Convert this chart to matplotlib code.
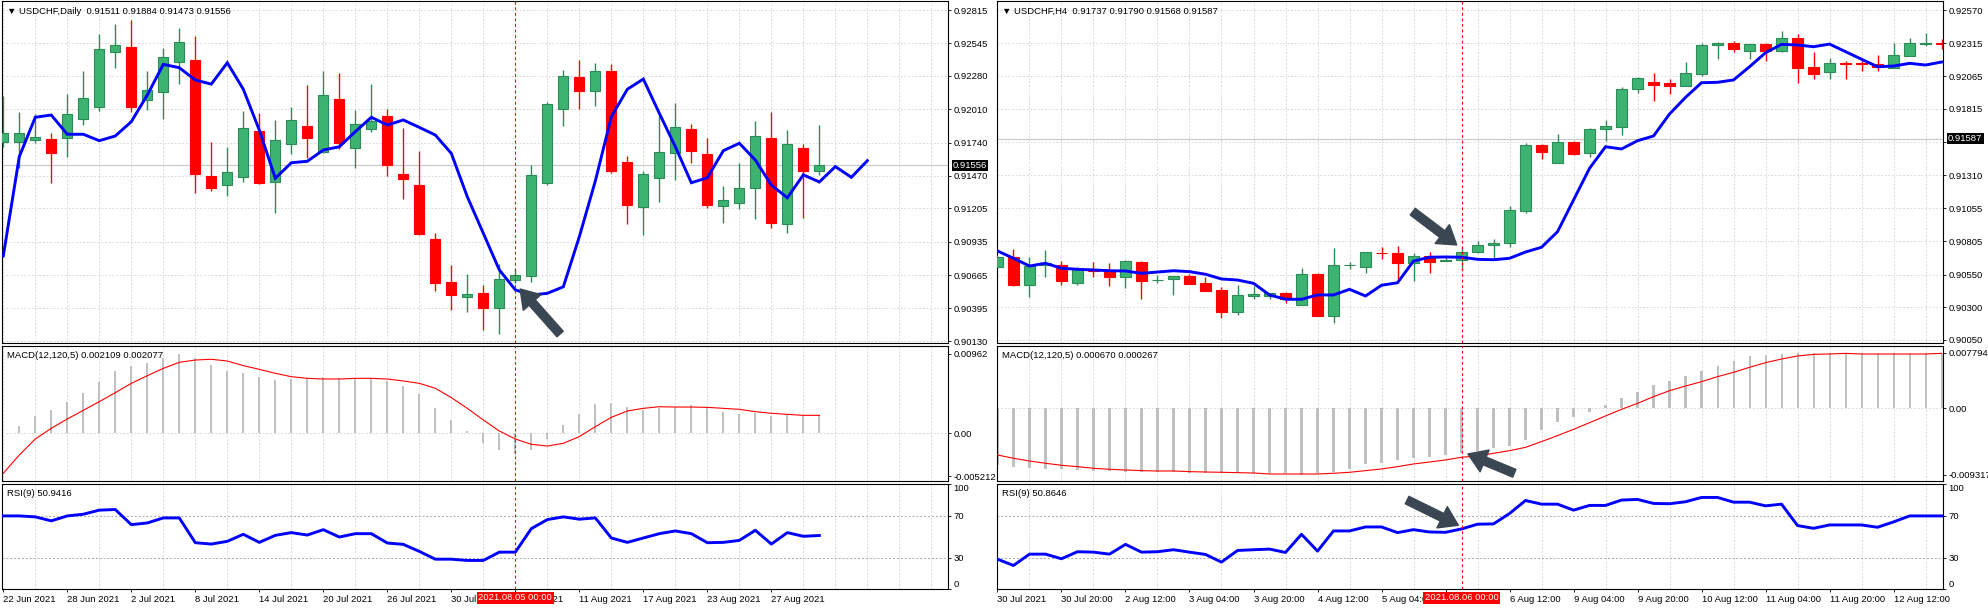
import numpy as np
import matplotlib
matplotlib.use("Agg")
import matplotlib.pyplot as plt

plt.rcParams['font.family'] = ['Liberation Sans', 'DejaVu Sans']
plt.rcParams['font.size'] = 6.8

# ---------------- USDCHF Daily (left chart) ----------------
d1_open = [0.91747, 0.91742, 0.91758, 0.91768, 0.91774, 0.91928, 0.92030, 0.92472, 0.92515, 0.92083,
           0.92148, 0.92391, 0.92409, 0.91468, 0.91393, 0.91458, 0.91833, 0.91422, 0.91725, 0.91874,
           0.91665, 0.92093, 0.91693, 0.91847, 0.91955, 0.91482, 0.91395, 0.90957, 0.90609, 0.90489,
           0.90519, 0.90395, 0.90622, 0.90660, 0.91409, 0.92014, 0.92271, 0.92160, 0.92320, 0.91581,
           0.91218, 0.91454, 0.91657, 0.91850, 0.91647, 0.91229, 0.91252, 0.91369, 0.91777, 0.91081,
           0.91696, 0.91511]
d1_high = [0.92117, 0.91988, 0.91969, 0.91817, 0.92136, 0.92323, 0.92618, 0.92701, 0.92734, 0.92320,
           0.92504, 0.92671, 0.92606, 0.91744, 0.91706, 0.91996, 0.91977, 0.91923, 0.92028, 0.92207,
           0.92323, 0.92306, 0.92004, 0.92217, 0.92012, 0.91860, 0.91674, 0.91007, 0.90746, 0.90673,
           0.90582, 0.90752, 0.90712, 0.91557, 0.92066, 0.92328, 0.92409, 0.92387, 0.92377, 0.91631,
           0.91509, 0.91955, 0.92063, 0.91890, 0.91777, 0.91387, 0.91573, 0.91914, 0.91988, 0.91843,
           0.91728, 0.91884]
d1_low = [0.91706, 0.91531, 0.91738, 0.91414, 0.91625, 0.91882, 0.91996, 0.92347, 0.91990, 0.92004,
          0.91928, 0.92217, 0.91328, 0.91349, 0.91308, 0.91422, 0.91403, 0.91171, 0.91647, 0.91617,
          0.91652, 0.91685, 0.91536, 0.91828, 0.91471, 0.91282, 0.90990, 0.90535, 0.90381, 0.90365,
          0.90219, 0.90185, 0.90600, 0.90611, 0.91395, 0.91874, 0.92014, 0.92036, 0.91495, 0.91081,
          0.90990, 0.91260, 0.91436, 0.91576, 0.91209, 0.91086, 0.91203, 0.91121, 0.91049, 0.91004,
          0.91130, 0.91473]
d1_close = [0.91815, 0.91815, 0.91785, 0.91657, 0.91969, 0.92099, 0.92496, 0.92529, 0.92030, 0.92166,
            0.92431, 0.92553, 0.91482, 0.91373, 0.91498, 0.91858, 0.91414, 0.91758, 0.91923, 0.91779,
            0.92123, 0.91738, 0.91890, 0.91917, 0.91560, 0.91446, 0.90998, 0.90603, 0.90503, 0.90511,
            0.90400, 0.90633, 0.90663, 0.91480, 0.92050, 0.92277, 0.92160, 0.92320, 0.91509, 0.91230,
            0.91481, 0.91660, 0.91866, 0.91674, 0.91233, 0.91274, 0.91369, 0.91792, 0.91089, 0.91728,
            0.91512, 0.91556]
# moving average, drawn shifted 3 bars to the right
d1_ma = [0.90820, 0.91625, 0.91945, 0.91963, 0.91807, 0.91807, 0.91755, 0.91793, 0.91909, 0.92125,
         0.92374, 0.92347, 0.92247, 0.92214, 0.92387, 0.92172, 0.91841, 0.91450, 0.91576, 0.91588,
         0.91679, 0.91706, 0.91828, 0.91945, 0.91882, 0.91923, 0.91863, 0.91801, 0.91652, 0.91300,
         0.91004, 0.90707, 0.90545, 0.90503, 0.90517, 0.90570, 0.90976, 0.91428, 0.91949, 0.92172,
         0.92255, 0.91977, 0.91706, 0.91414, 0.91454, 0.91674, 0.91734, 0.91598, 0.91395, 0.91292,
         0.91478, 0.91420, 0.91545, 0.91458, 0.91593]
d1_macd = [0.00010, 0.00093, 0.00210, 0.00283, 0.00380, 0.00489, 0.00627, 0.00756, 0.00817, 0.00853,
           0.00918, 0.00962, 0.00910, 0.00829, 0.00756, 0.00732, 0.00683, 0.00647, 0.00659, 0.00667,
           0.00679, 0.00667, 0.00667, 0.00667, 0.00639, 0.00574, 0.00481, 0.00311, 0.00162, 0.00028,
           -0.00113, -0.00202, -0.00251, -0.00202, -0.00069, 0.00101, 0.00234, 0.00356, 0.00364, 0.00323,
           0.00283, 0.00303, 0.00323, 0.00344, 0.00315, 0.00263, 0.00234, 0.00251, 0.00210, 0.00230,
           0.00214, 0.00221]
d1_signal = [-0.00485, -0.00263, -0.00069, 0.00061, 0.00174, 0.00279, 0.00384, 0.00493, 0.00606, 0.00699,
             0.00788, 0.00861, 0.00889, 0.00898, 0.00877, 0.00821, 0.00776, 0.00728, 0.00687, 0.00667,
             0.00659, 0.00659, 0.00667, 0.00667, 0.00659, 0.00635, 0.00606, 0.00546, 0.00433, 0.00303,
             0.00162, 0.00028, -0.00069, -0.00133, -0.00154, -0.00121, -0.00040, 0.00081, 0.00194, 0.00271,
             0.00303, 0.00323, 0.00319, 0.00319, 0.00315, 0.00303, 0.00291, 0.00263, 0.00243, 0.00230,
             0.00218, 0.00218]
d1_rsi = [69.6, 69.6, 68.7, 64.9, 69.6, 71.2, 75.1, 75.7, 61.3, 62.9,
          67.7, 67.7, 44.1, 42.8, 45.4, 52.1, 44.4, 51.1, 53.7, 51.4,
          56.5, 49.5, 52.7, 52.7, 43.8, 42.5, 35.8, 28.4, 28.4, 27.2,
          27.2, 35.1, 35.1, 57.5, 66.1, 68.7, 66.5, 67.7, 48.6, 44.4,
          48.6, 52.7, 55.3, 52.7, 44.1, 44.4, 46.3, 55.9, 42.8, 53.7,
          50.2, 50.94]
d1_dates = ['22 Jun 2021', '28 Jun 2021', '2 Jul 2021', '8 Jul 2021', '14 Jul 2021', '20 Jul 2021',
            '26 Jul 2021', '30 Jul 2021', '5 Aug 2021', '11 Aug 2021', '17 Aug 2021', '23 Aug 2021',
            '27 Aug 2021']
d1_price_ticks = [0.92815, 0.92545, 0.92280, 0.92010, 0.91740, 0.91470, 0.91205, 0.90935, 0.90665,
                  0.90395, 0.90130]
d1_price_labels = ['0.92815', '0.92545', '0.92280', '0.92010', '0.91740', '0.91470', '0.91205',
                   '0.90935', '0.90665', '0.90395', '0.90130']
d1_macd_ticks = [0.00962, 0.0, -0.005212]
d1_macd_labels = ['0.00962', '0.00', '-0.005212']
d1_last = 0.91556
d1_cursor = 32
d1_cursor_label = '2021.08.05 00:00'
d1_title = '\u25bc USDCHF,Daily  0.91511 0.91884 0.91473 0.91556'
d1_macd_title = 'MACD(12,120,5) 0.002109 0.002077'
d1_rsi_title = 'RSI(9) 50.9416'

# ---------------- USDCHF H4 (right chart) ----------------
h4_open = [0.90610, 0.90682, 0.90472, 0.90625, 0.90621, 0.90483, 0.90585, 0.90585, 0.90534, 0.90646,
           0.90508, 0.90514, 0.90537, 0.90485, 0.90432, 0.90266, 0.90384, 0.90388, 0.90407, 0.90320,
           0.90555, 0.90236, 0.90621, 0.90610, 0.90717, 0.90712, 0.90636, 0.90689, 0.90653, 0.90659,
           0.90720, 0.90776, 0.90789, 0.91037, 0.91539, 0.91404, 0.91560, 0.91476, 0.91659, 0.91679,
           0.91965, 0.92020, 0.92013, 0.91992, 0.92084, 0.92300, 0.92316, 0.92259, 0.92310, 0.92259,
           0.92354, 0.92133, 0.92094, 0.92163, 0.92165, 0.92155, 0.92129, 0.92221, 0.92314, 0.92316]
h4_high = [0.90699, 0.90745, 0.90682, 0.90737, 0.90656, 0.90610, 0.90648, 0.90638, 0.90661, 0.90651,
           0.90547, 0.90541, 0.90554, 0.90534, 0.90453, 0.90468, 0.90463, 0.90411, 0.90417, 0.90600,
           0.90564, 0.90750, 0.90648, 0.90722, 0.90763, 0.90768, 0.90712, 0.90720, 0.90691, 0.90763,
           0.90804, 0.90819, 0.91073, 0.91557, 0.91547, 0.91624, 0.91566, 0.91667, 0.91730, 0.91984,
           0.92056, 0.92091, 0.92041, 0.92173, 0.92316, 0.92326, 0.92331, 0.92314, 0.92316, 0.92410,
           0.92387, 0.92249, 0.92201, 0.92183, 0.92188, 0.92226, 0.92316, 0.92354, 0.92392, 0.92346]
h4_low = [0.90605, 0.90463, 0.90381, 0.90534, 0.90470, 0.90468, 0.90534, 0.90463, 0.90449, 0.90366,
          0.90483, 0.90394, 0.90475, 0.90427, 0.90216, 0.90241, 0.90363, 0.90361, 0.90330, 0.90317,
          0.90233, 0.90178, 0.90590, 0.90564, 0.90671, 0.90514, 0.90503, 0.90564, 0.90651, 0.90585,
          0.90717, 0.90661, 0.90763, 0.91022, 0.91435, 0.91399, 0.91465, 0.91445, 0.91572, 0.91618,
          0.91939, 0.91877, 0.91929, 0.91990, 0.92066, 0.92194, 0.92252, 0.92194, 0.92183, 0.92252,
          0.92010, 0.92045, 0.92041, 0.92041, 0.92106, 0.92106, 0.92125, 0.92221, 0.92299, 0.92270]
h4_close = [0.90682, 0.90470, 0.90615, 0.90636, 0.90503, 0.90590, 0.90579, 0.90534, 0.90653, 0.90503,
            0.90511, 0.90537, 0.90480, 0.90427, 0.90266, 0.90391, 0.90399, 0.90407, 0.90363, 0.90552,
            0.90236, 0.90621, 0.90623, 0.90720, 0.90712, 0.90636, 0.90689, 0.90648, 0.90661, 0.90720,
            0.90773, 0.90793, 0.91043, 0.91539, 0.91488, 0.91560, 0.91470, 0.91659, 0.91684, 0.91965,
            0.92049, 0.92000, 0.91992, 0.92089, 0.92303, 0.92320, 0.92275, 0.92310, 0.92259, 0.92354,
            0.92129, 0.92084, 0.92163, 0.92155, 0.92160, 0.92137, 0.92226, 0.92316, 0.92317, 0.92314]
h4_ma = [0.90730, 0.90674, 0.90615, 0.90636, 0.90598, 0.90590, 0.90585, 0.90579, 0.90577, 0.90559,
         0.90569, 0.90579, 0.90572, 0.90552, 0.90516, 0.90508, 0.90483, 0.90394, 0.90361, 0.90361,
         0.90394, 0.90394, 0.90437, 0.90386, 0.90468, 0.90487, 0.90653, 0.90682, 0.90684, 0.90682,
         0.90666, 0.90663, 0.90674, 0.90722, 0.90758, 0.90877, 0.91119, 0.91361, 0.91526, 0.91509,
         0.91572, 0.91608, 0.91776, 0.91903, 0.92015, 0.92018, 0.92036, 0.92137, 0.92244, 0.92308,
         0.92303, 0.92290, 0.92310, 0.92252, 0.92194, 0.92137, 0.92142, 0.92163, 0.92150, 0.92173]
h4_macd = [-0.00793, -0.00816, -0.00830, -0.00844, -0.00853, -0.00863, -0.00872, -0.00877, -0.00886, -0.00891,
           -0.00895, -0.00895, -0.00900, -0.00900, -0.00909, -0.00909, -0.00909, -0.00909, -0.00909, -0.00932,
           -0.00900, -0.00891, -0.00853, -0.00783, -0.00760, -0.00723, -0.00699, -0.00676, -0.00653, -0.00630,
           -0.00592, -0.00560, -0.00527, -0.00443, -0.00303, -0.00187, -0.00126, -0.00047, 0.00047, 0.00140,
           0.00233, 0.00326, 0.00387, 0.00452, 0.00527, 0.00597, 0.00667, 0.00732, 0.00746, 0.00760,
           0.00769, 0.00769, 0.00779, 0.00779, 0.00769, 0.00769, 0.00769, 0.00769, 0.00769, 0.00769]
h4_signal = [-0.00653, -0.00699, -0.00737, -0.00769, -0.00797, -0.00816, -0.00839, -0.00853, -0.00863, -0.00872,
             -0.00877, -0.00877, -0.00886, -0.00891, -0.00895, -0.00900, -0.00905, -0.00919, -0.00919, -0.00919,
             -0.00919, -0.00909, -0.00895, -0.00872, -0.00849, -0.00816, -0.00779, -0.00751, -0.00723, -0.00685,
             -0.00667, -0.00630, -0.00592, -0.00546, -0.00466, -0.00382, -0.00294, -0.00201, -0.00107, -0.00014,
             0.00070, 0.00163, 0.00247, 0.00312, 0.00373, 0.00443, 0.00504, 0.00574, 0.00639, 0.00690,
             0.00732, 0.00755, 0.00760, 0.00769, 0.00760, 0.00760, 0.00760, 0.00760, 0.00760, 0.00769]
h4_rsi = [28.4, 22.4, 33.2, 33.2, 28.8, 35.5, 35.1, 33.2, 42.5, 35.1,
          35.5, 37.4, 35.1, 32.9, 25.6, 36.7, 37.4, 38.0, 34.8, 52.1,
          36.1, 55.3, 55.3, 59.1, 59.1, 53.7, 56.5, 54.3, 54.0, 57.2,
          61.7, 62.0, 71.9, 84.3, 80.8, 80.8, 75.1, 79.6, 79.6, 84.7,
          85.3, 81.5, 81.2, 83.1, 87.2, 87.2, 82.7, 82.7, 79.2, 80.8,
          60.4, 57.8, 61.0, 61.0, 61.0, 58.8, 63.9, 69.6, 69.6, 69.6]
h4_dates = ['30 Jul 2021', '30 Jul 20:00', '2 Aug 12:00', '3 Aug 04:00', '3 Aug 20:00', '4 Aug 12:00',
            '5 Aug 04:00', '5 Aug 20:00', '6 Aug 12:00', '9 Aug 04:00', '9 Aug 20:00', '10 Aug 12:00',
            '11 Aug 04:00', '11 Aug 20:00', '12 Aug 12:00']
h4_price_ticks = [0.92570, 0.92315, 0.92065, 0.91815, 0.91560, 0.91310, 0.91055, 0.90805, 0.90550,
                  0.90300, 0.90050]
h4_price_labels = ['0.92570', '0.92315', '0.92065', '0.91815', '', '0.91310', '0.91055', '0.90805',
                   '0.90550', '0.90300', '0.90050']
h4_macd_ticks = [0.007794, 0.0, -0.009317]
h4_macd_labels = ['0.007794', '0.00', '-0.009317']
h4_last = 0.91587
h4_cursor = 29
h4_cursor_label = '2021.08.06 00:00'
h4_title = '\u25bc USDCHF,H4  0.91737 0.91790 0.91568 0.91587'
h4_macd_title = 'MACD(12,120,5) 0.000670 0.000267'
h4_rsi_title = 'RSI(9) 50.8646'

# ---------------- drawing ----------------
W, H = 1988, 610
BULL, BULL_EDGE, BEAR = '#3cb371', '#2e8b57', '#ff0000'
GRID = '#d4d4d4'
ARROW = '#3a4651'
GRID_LS = (0, (2.2, 2.2))

fig = plt.figure(figsize=(W / 100, H / 100), dpi=100)


def rect(x0, y0, x1, y1):
    return [x0 / W, 1 - y1 / H, (x1 - x0) / W, (y1 - y0) / H]


def base(ax, xlim):
    ax.set_xlim(*xlim)
    for s in ax.spines.values():
        s.set_color('black')
        s.set_linewidth(0.8)
    ax.yaxis.tick_right()
    ax.tick_params(axis='y', length=2.5, width=0.6, pad=1.5, labelsize=6.8)
    ax.tick_params(axis='x', which='both', length=0, labelbottom=False)


def corner(ax, text):
    ax.annotate(text, xy=(0, 1), xycoords='axes fraction', xytext=(5, -10),
                textcoords='offset pixels', ha='left', va='center', fontsize=6.8, zorder=7)


def chart(x0, x1, xlim, o, h, l, c, ma, macd, sig, rsi, pticks, plabels, ylim_p, last,
          mticks, mlabels, ylim_m, title, mtitle, rtitle, dates, cursor, cursor_label):
    ax_p = fig.add_axes(rect(x0, 1, x1, 343))
    ax_m = fig.add_axes(rect(x0, 346, x1, 481))
    ax_r = fig.add_axes(rect(x0, 484, x1, 589))
    for ax in (ax_p, ax_m, ax_r):
        base(ax, xlim)
        ax.axvline(cursor, color='red', lw=0.8, ls=(0, (2.5, 2.5)), zorder=6)

    # price panel
    o, h, l, c = map(np.asarray, (o, h, l, c))
    x = np.arange(len(o))
    up = c >= o
    ax_p.vlines(x[up], l[up], h[up], color=BULL_EDGE, lw=1, zorder=3)
    ax_p.vlines(x[~up], l[~up], h[~up], color=BEAR, lw=1, zorder=3)
    bot = np.minimum(o, c)
    hgt = np.abs(c - o)
    ax_p.bar(x[up], hgt[up], bottom=bot[up], width=0.64, color=BULL, edgecolor=BULL_EDGE, lw=0.8, zorder=4)
    ax_p.bar(x[~up], hgt[~up], bottom=bot[~up], width=0.64, color=BEAR, edgecolor=BEAR, lw=0.8, zorder=4)
    ax_p.plot(np.arange(len(ma)), ma, color='#0000ff', lw=2.1, zorder=5, solid_joinstyle='miter')
    ax_p.axhline(last, color='#c8c8c8', lw=0.8, zorder=1)
    ax_p.set_ylim(*ylim_p)
    ax_p.set_yticks(pticks)
    ax_p.set_yticklabels(plabels)
    ax_p.set_xticks(np.arange(0, 60, 2))
    ax_p.grid(True, color=GRID, lw=0.6, ls=GRID_LS, zorder=0)
    ax_p.set_axisbelow(True)
    ax_p.annotate('%.5f' % last, xy=(1, last), xycoords=('axes fraction', 'data'), xytext=(5, 0),
                  textcoords='offset pixels', ha='left', va='center', color='white', fontsize=6.8,
                  bbox=dict(boxstyle='square,pad=0.12', fc='black', ec='none'),
                  annotation_clip=False, zorder=8)
    corner(ax_p, title)

    # MACD panel
    xm = np.arange(len(macd))
    ax_m.bar(xm, macd, width=0.13, color='#c0c0c0', zorder=2)
    ax_m.plot(np.arange(len(sig)), sig, color='#ff0000', lw=0.8, zorder=3)
    ax_m.axhline(0, color=GRID, lw=0.6, ls=GRID_LS, zorder=0)
    ax_m.set_ylim(*ylim_m)
    ax_m.set_yticks(mticks)
    ax_m.set_yticklabels(mlabels)
    ax_m.set_xticks(np.arange(0, 60, 2))
    ax_m.grid(True, axis='x', color=GRID, lw=0.6, ls=GRID_LS, zorder=0)
    ax_m.set_axisbelow(True)
    corner(ax_m, mtitle)

    # RSI panel
    ax_r.plot(np.arange(len(rsi)), rsi, color='#0000ff', lw=2.1, zorder=4)
    for lev in (70, 30):
        ax_r.axhline(lev, color='#a8a8a8', lw=0.7, ls=(0, (2, 2)), zorder=1)
    ax_r.set_ylim(0, 100)
    ax_r.set_yticks([100, 70, 30, 0])
    ax_r.set_yticklabels(['100', '70', '30', '0'])
    lbls = ax_r.get_yticklabels()
    lbls[0].set_verticalalignment('top')
    lbls[-1].set_verticalalignment('bottom')
    ax_r.set_xticks(np.arange(0, 60, 2), minor=True)
    ax_r.grid(True, which='minor', axis='x', color=GRID, lw=0.6, ls=GRID_LS, zorder=0)
    ax_r.set_axisbelow(True)
    pos = np.arange(len(dates)) * 4
    ax_r.set_xticks(pos)
    ax_r.set_xticklabels(dates, ha='left')
    ax_r.tick_params(axis='x', which='major', length=2.5, width=0.6, pad=1.5, labelbottom=True,
                     labelsize=6.8)
    ax_r.tick_params(axis='x', which='minor', length=0)
    ax_r.annotate(cursor_label, xy=(cursor, 0), xycoords=('data', 'axes fraction'), xytext=(0, -9),
                  textcoords='offset pixels', ha='center', va='center', color='white', fontsize=6.8,
                  bbox=dict(boxstyle='square,pad=0.15', fc='#ff0000', ec='none'),
                  annotation_clip=False, zorder=8)
    corner(ax_r, rtitle)
    return ax_p, ax_m, ax_r


def arrow(ax, tail, tip):
    ax.annotate('', xy=tip, xytext=tail,
                arrowprops=dict(facecolor=ARROW, edgecolor=ARROW, width=6, headwidth=17,
                                headlength=13, shrink=0),
                annotation_clip=False, zorder=9)


lp, lm, lr = chart(2, 948, (-0.08, 59.04), d1_open, d1_high, d1_low, d1_close, d1_ma,
                   d1_macd, d1_signal, d1_rsi, d1_price_ticks, d1_price_labels,
                   (0.90114, 0.92888), d1_last, d1_macd_ticks, d1_macd_labels, (-0.00578, 0.01059),
                   d1_title, d1_macd_title, d1_rsi_title, d1_dates, d1_cursor, d1_cursor_label)

rp, rm, rr = chart(997, 1943, (-0.03, 59.09), h4_open, h4_high, h4_low, h4_close, h4_ma,
                   h4_macd, h4_signal, h4_rsi, h4_price_ticks, h4_price_labels,
                   (0.90027, 0.92639), h4_last, h4_macd_ticks, h4_macd_labels, (-0.01017, 0.00872),
                   h4_title, h4_macd_title, h4_rsi_title, h4_dates, h4_cursor, h4_cursor_label)

arrow(lp, (34.8, 0.90187), (32.3, 0.90552))
arrow(rp, (25.95, 0.91030), (28.7, 0.90776))
arrow(rm, (32.3, -0.00909), (29.4, -0.00639))
arrow(rr, (25.6, 84.7), (28.8, 60.7))

fig.savefig('out.png', dpi=100, facecolor='white')
